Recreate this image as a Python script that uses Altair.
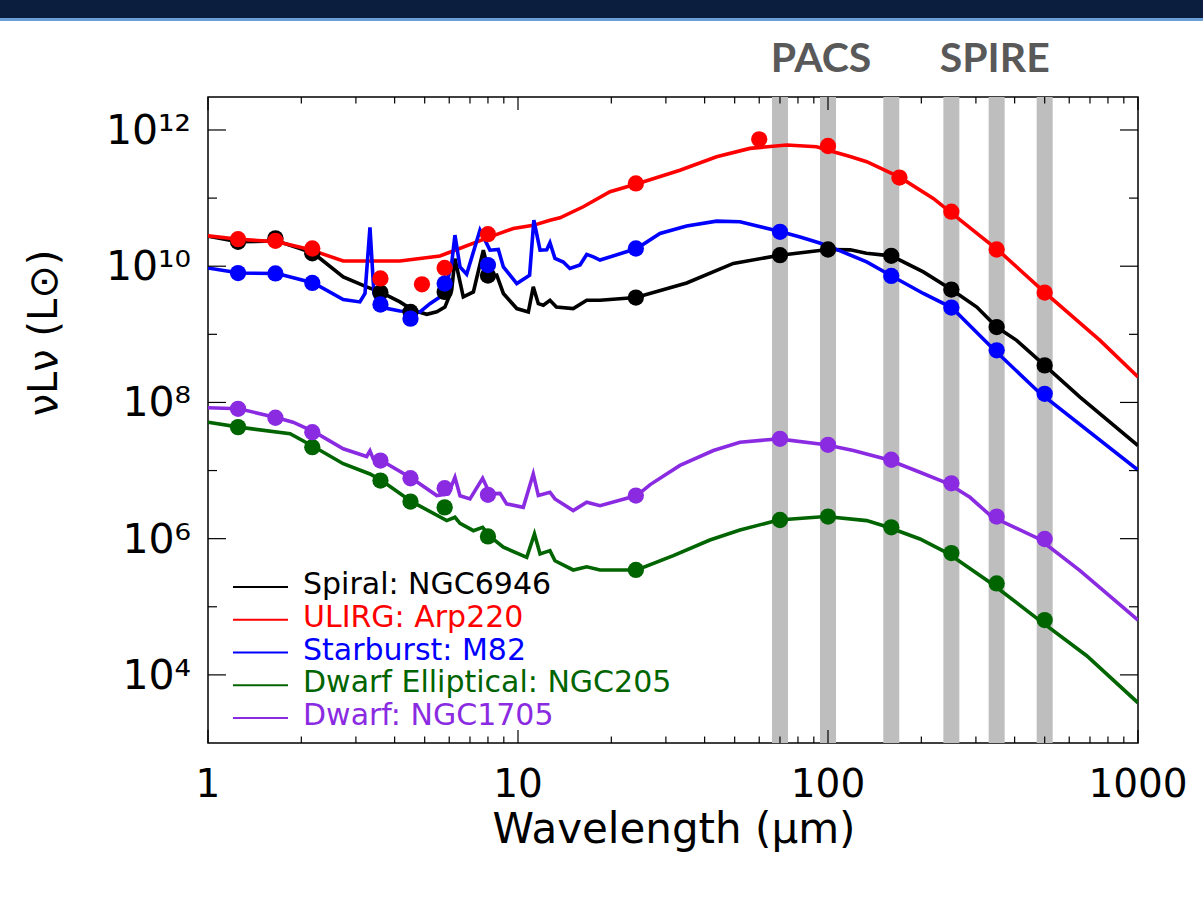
import altair as alt
import pandas as pd

# ---------------- data (wavelength in micron, nu L_nu in L_sun) ----------------
series_names = ["Spiral: NGC6946", "ULIRG: Arp220", "Starburst: M82",
                "Dwarf Elliptical: NGC205", "Dwarf: NGC1705"]
series_colors = ["#000000", "#ff0000", "#0000ff", "#006400", "#8a2be2"]

spiral_curve_wl = [1.0, 1.25, 1.67, 1.98, 2.19, 2.73, 3.25, 3.63, 4.16, 4.59, 5.08, 5.47, 5.81, 6.11, 6.26,
                   6.66, 7.18, 7.73, 8.12, 8.54, 8.97, 9.91, 10.8, 11.2, 11.63, 12.07, 12.68, 13.3, 15.07,
                   16.66, 18.39, 24.0, 35.0, 49.5, 70, 100, 118, 133, 160, 203, 250, 302, 350, 406, 500,
                   650, 1000]
spiral_curve_lum = [2.75e10, 2.29e10, 2.34e10, 1.82e10, 1.55e10, 6.97e9, 4.97e9, 4.10e9, 2.99e9, 2.25e9,
                    1.97e9, 2.14e9, 2.51e9, 4.44e9, 1.29e10, 3.55e9, 4.19e9, 1.72e10, 6.97e9, 7.38e9,
                    3.98e9, 2.39e9, 2.13e9, 4.97e9, 2.82e9, 2.67e9, 3.16e9, 2.51e9, 2.39e9, 3.16e9,
                    3.16e9, 3.47e9, 5.68e9, 1.10e10, 1.45e10, 1.76e10, 1.74e10, 1.55e10, 1.42e10, 8.24e9,
                    4.54e9, 2.51e9, 1.28e9, 8.17e8, 3.50e8, 1.20e8, 2.33e7]
spiral_pts_wl = [1.25, 1.65, 2.17, 3.6, 4.5, 5.8, 8.0, 24, 70, 100, 160, 250, 350, 500]
spiral_pts_lum = [2.28e10, 2.57e10, 1.55e10, 4.10e9, 2.13e9, 4.19e9, 7.29e9, 3.47e9, 1.45e10, 1.76e10,
                  1.42e10, 4.54e9, 1.28e9, 3.50e8]

ulirg_curve_wl = [1.0, 1.26, 1.67, 2.13, 2.73, 4.16, 5.60, 8.12, 9.66, 11.2, 12.68, 13.66, 16.24, 19.8,
                  24.4, 33.3, 43.7, 56.0, 73.6, 91.9, 104, 117.8, 133.3, 170.7, 218.6, 280, 359, 501, 754,
                  1000]
ulirg_curve_lum = [2.79e10, 2.49e10, 2.28e10, 1.76e10, 1.19e10, 1.19e10, 1.41e10, 2.69e10, 3.58e10,
                   3.98e10, 4.74e10, 5.13e10, 7.46e10, 1.24e11, 1.64e11, 2.57e11, 4.05e11, 5.37e11,
                   6.03e11, 5.69e11, 4.79e11, 4.07e11, 3.42e11, 2.01e11, 9.91e10, 4.01e10, 1.62e10,
                   4.10e9, 8.13e8, 2.36e8]
ulirg_pts_wl = [1.25, 1.65, 2.17, 3.6, 4.9, 5.8, 8.0, 24, 60, 100, 170, 250, 350, 500]
ulirg_pts_lum = [2.49e10, 2.36e10, 1.82e10, 6.61e9, 5.43e9, 9.44e9, 2.95e10, 1.64e11, 7.29e11, 5.82e11,
                 2.00e11, 6.31e10, 1.76e10, 4.10e9]

starburst_curve_wl = [1.0, 1.26, 1.67, 2.19, 2.73, 3.09, 3.21, 3.33, 3.43, 3.59, 4.16, 4.83, 5.20, 5.60,
                      5.89, 6.11, 6.26, 6.50, 6.83, 7.54, 8.12, 8.64, 8.97, 9.91, 10.9, 11.25, 11.78,
                      12.38, 12.68, 13.16, 14.0, 14.7, 15.85, 16.66, 17.5, 18.39, 24.15, 28.7, 35.0, 43.7,
                      52.0, 70.5, 81.3, 94, 108, 133.3, 160.5, 203, 250.6, 337, 480, 1000]
starburst_curve_lum = [9.44e9, 7.94e9, 7.82e9, 5.68e9, 3.24e9, 2.99e9, 3.98e9, 3.72e10, 3.98e9, 2.51e9,
                       2.20e9, 2.13e9, 2.82e9, 3.54e9, 5.57e9, 1.10e10, 2.86e10, 9.77e9, 7.62e9, 3.39e10,
                       1.72e10, 1.76e10, 9.77e9, 5.57e9, 7.38e9, 4.74e10, 1.72e10, 1.74e10, 2.21e10,
                       1.30e10, 1.15e10, 9.25e9, 1.04e10, 1.49e10, 1.37e10, 1.23e10, 1.82e10, 3.02e10,
                       3.89e10, 4.59e10, 4.49e10, 3.20e10, 2.69e10, 2.19e10, 1.72e10, 1.16e10, 7.19e9,
                       3.98e9, 2.47e9, 6.46e8, 1.40e8, 1.02e7]
starburst_pts_wl = [1.25, 1.65, 2.17, 3.6, 4.5, 5.8, 8.0, 24, 70, 160, 250, 350, 500]
starburst_pts_lum = [7.94e9, 7.82e9, 5.68e9, 2.74e9, 1.70e9, 5.57e9, 1.04e10, 1.82e10, 3.20e10, 7.19e9,
                     2.47e9, 5.82e8, 1.34e8]

delliptical_curve_wl = [1.0, 1.26, 1.84, 2.21, 2.73, 3.33, 3.63, 4.54, 5.89, 6.26, 6.50, 7.18, 7.69, 8.12,
                        8.97, 10.67, 11.3, 11.78, 12.68, 13.16, 15.07, 16.66, 18.39, 24.15, 31.7, 41.6,
                        52.0, 69.2, 98.4, 133.3, 156.5, 198, 243, 337, 480, 683, 1000]
delliptical_curve_lum = [5.13e7, 4.34e7, 3.47e7, 2.20e7, 1.26e7, 8.91e6, 7.13e6, 3.50e6, 1.84e6, 2.06e6,
                         1.68e6, 1.31e6, 1.47e6, 1.08e6, 7.50e5, 5.31e5, 1.17e6, 5.96e5, 6.67e5, 4.74e5,
                         3.47e5, 3.87e5, 3.47e5, 3.47e5, 5.62e5, 9.55e5, 1.34e6, 1.88e6, 2.11e6, 1.84e6,
                         1.47e6, 9.89e5, 6.15e5, 2.20e5, 6.37e4, 1.91e4, 3.89e3]
delliptical_pts_wl = [1.25, 2.17, 3.6, 4.5, 5.8, 8.0, 24, 70, 100, 160, 250, 350, 500]
delliptical_pts_lum = [4.34e7, 2.20e7, 7.13e6, 3.50e6, 2.88e6, 1.08e6, 3.47e5, 1.88e6, 2.11e6, 1.47e6,
                       6.15e5, 2.20e5, 6.37e4]

dwarf_curve_wl = [1.0, 1.26, 1.67, 1.88, 2.21, 2.73, 3.25, 3.33, 3.41, 3.63, 4.54, 5.47, 5.96, 6.26, 6.50,
                  7.00, 7.69, 8.12, 8.75, 9.19, 10.4, 11.2, 11.63, 12.68, 13.16, 15.07, 16.66, 18.39,
                  24.15, 26.7, 33.3, 42.7, 52.0, 69.2, 98.4, 120.7, 156.5, 198, 243, 287, 337, 480, 650,
                  1000]
dwarf_curve_lum = [8.36e7, 8.07e7, 5.96e7, 5.13e7, 3.66e7, 2.09e7, 1.61e7, 1.95e7, 1.49e7, 1.40e7,
                   7.71e6, 4.29e6, 4.54e6, 7.94e6, 4.27e6, 3.84e6, 7.71e6, 4.54e6, 4.63e6, 3.24e6,
                   2.88e6, 8.93e6, 4.29e6, 4.80e6, 3.83e6, 2.58e6, 3.42e6, 3.05e6, 4.29e6, 6.22e6,
                   1.19e7, 1.97e7, 2.61e7, 2.92e7, 2.39e7, 1.97e7, 1.44e7, 9.44e6, 6.50e6, 4.05e6,
                   2.11e6, 9.89e5, 3.39e5, 6.37e4]
dwarf_pts_wl = [1.25, 1.65, 2.17, 3.6, 4.5, 5.8, 8.0, 24, 70, 100, 160, 250, 350, 500]
dwarf_pts_lum = [8.07e7, 5.96e7, 3.66e7, 1.40e7, 7.71e6, 5.50e6, 4.40e6, 4.29e6, 2.92e7, 2.39e7, 1.44e7,
                 6.50e6, 2.11e6, 9.89e5]

band_wl = [70, 100, 160, 250, 350, 500]          # PACS + SPIRE bands
instrument_names = ["PACS", "SPIRE"]
instrument_wl = [95, 345]

x_major = [1, 10, 100, 1000]
x_minor = [2, 3, 4, 5, 6, 7, 8, 9, 20, 30, 40, 50, 60, 70, 80, 90, 200, 300, 400, 500, 600, 700, 800, 900]
y_label_exp = [4, 6, 8, 10, 12]
y_major = [1e4, 1e6, 1e8, 1e10, 1e12]
y_minor = [1e5, 1e7, 1e9, 1e11]

# ---------------- build tables ----------------
curves = [(spiral_curve_wl, spiral_curve_lum), (ulirg_curve_wl, ulirg_curve_lum),
          (starburst_curve_wl, starburst_curve_lum), (delliptical_curve_wl, delliptical_curve_lum),
          (dwarf_curve_wl, dwarf_curve_lum)]
points = [(spiral_pts_wl, spiral_pts_lum), (ulirg_pts_wl, ulirg_pts_lum),
          (starburst_pts_wl, starburst_pts_lum), (delliptical_pts_wl, delliptical_pts_lum),
          (dwarf_pts_wl, dwarf_pts_lum)]

curve_df = pd.concat([pd.DataFrame({"wl": w, "lum": l, "series": n, "k": i})
                      for i, (n, (w, l)) in enumerate(zip(series_names, curves))])
point_df = pd.concat([pd.DataFrame({"wl": w, "lum": l, "series": n, "k": i})
                      for i, (n, (w, l)) in enumerate(zip(series_names, points))])

sup = str.maketrans("0123456789", "⁰¹²³⁴⁵⁶⁷⁸⁹")
ylab_df = pd.DataFrame({"v": y_major, "label": ["10" + str(e).translate(sup) for e in y_label_exp]})

W, H = 930, 646
FONT = "DejaVu Sans"
xs = alt.Scale(type="log", domain=[1, 1000], nice=False)
ys = alt.Scale(type="log", domain=[1e3, 3.05e12], nice=False)
cscale = alt.Scale(domain=series_names, range=series_colors)


def X(f="wl"):
    return alt.X(f + ":Q", scale=xs, axis=None)


def Y(f="lum"):
    return alt.Y(f + ":Q", scale=ys, axis=None)


one = pd.DataFrame({"a": [0]})

topband = alt.Chart(one).mark_rect(color="#0b1e3d").encode(
    x=alt.value(-208), x2=alt.value(W + 65), y=alt.value(-97), y2=alt.value(-79))
topline = alt.Chart(one).mark_rect(color="#6a9fd8").encode(
    x=alt.value(-208), x2=alt.value(W + 65), y=alt.value(-79), y2=alt.value(-76))

bands = alt.Chart(pd.DataFrame({"wl": band_wl})).mark_rule(color="#bebebe", strokeWidth=16).encode(
    x=X(), y=alt.value(0), y2=alt.value(H))

lines = alt.Chart(curve_df).mark_line(strokeWidth=3.6, clip=True).encode(
    x=X(), y=Y(), color=alt.Color("series:N", scale=cscale, legend=None),
    order=alt.Order("wl:Q"))

dots = alt.Chart(point_df).mark_circle(size=265, opacity=1).encode(
    x=X(), y=Y(), color=alt.Color("series:N", scale=cscale, legend=None),
    order=alt.Order("k:Q"))


def yticks(vals, length):
    d = alt.Chart(pd.DataFrame({"v": vals}))
    left = d.mark_rule(color="black", strokeWidth=1.2).encode(y=Y("v"), x=alt.value(0), x2=alt.value(length))
    right = d.mark_rule(color="black", strokeWidth=1.2).encode(y=Y("v"), x=alt.value(W - length), x2=alt.value(W))
    return [left, right]


def xticks(vals, length):
    d = alt.Chart(pd.DataFrame({"v": vals}))
    bot = d.mark_rule(color="black", strokeWidth=1.2).encode(x=X("v"), y=alt.value(H - length), y2=alt.value(H))
    top = d.mark_rule(color="black", strokeWidth=1.2).encode(x=X("v"), y=alt.value(0), y2=alt.value(length))
    return [bot, top]


ticks = yticks(y_major, 18) + yticks(y_minor, 9) + xticks(x_major, 13) + xticks(x_minor, 6.5)

ylabels = alt.Chart(ylab_df).mark_text(align="right", baseline="middle", fontSize=41, font=FONT,
                                       color="black", dy=2).encode(
    y=Y("v"), x=alt.value(-17), text="label:N")

xlabels = alt.Chart(pd.DataFrame({"v": x_major})).mark_text(
    align="center", baseline="middle", fontSize=39, font=FONT, color="black").encode(
    x=X("v"), y=alt.value(H + 42), text=alt.Text("v:Q", format="d"))

xtitle = alt.Chart(one).mark_text(align="center", baseline="middle", fontSize=42, font=FONT,
                                  color="black").encode(
    x=alt.value(466), y=alt.value(H + 87), text=alt.value("Wavelength (µm)"))

ytitle = alt.Chart(one).mark_text(align="center", baseline="middle", fontSize=40, font=FONT,
                                  color="black", angle=270).encode(
    x=alt.value(-163), y=alt.value(236), text=alt.value("νLν (L⊙)"))

instr = alt.Chart(pd.DataFrame({"wl": instrument_wl, "name": instrument_names})).mark_text(
    align="center", baseline="middle", fontSize=41, font="Lato", fontWeight="bold",
    color="#595959").encode(x=X(), y=alt.value(-37), text="name:N")

legend_layers = []
for i, (name, col) in enumerate(zip(series_names, series_colors)):
    yy = 488 + i * 32.75
    legend_layers.append(alt.Chart(one).mark_rule(color=col, strokeWidth=2).encode(
        x=alt.value(25), x2=alt.value(80), y=alt.value(yy + 2)))
    legend_layers.append(alt.Chart(one).mark_text(align="left", baseline="middle", fontSize=30,
                                                  font=FONT, color=col).encode(
        x=alt.value(95), y=alt.value(yy), text=alt.value(name)))

chart = alt.layer(topband, topline, bands, lines, dots, *ticks, ylabels, xlabels, xtitle, ytitle,
                  instr, *legend_layers).properties(
    width=W, height=H,
    padding={"left": 208, "top": 97, "right": 65, "bottom": 172},
    autosize=alt.AutoSizeParams(type="none"),
    background="white",
).configure_view(stroke="black", strokeWidth=1.5)

chart.save("out.html", embed_options={"renderer": "svg", "actions": False})
